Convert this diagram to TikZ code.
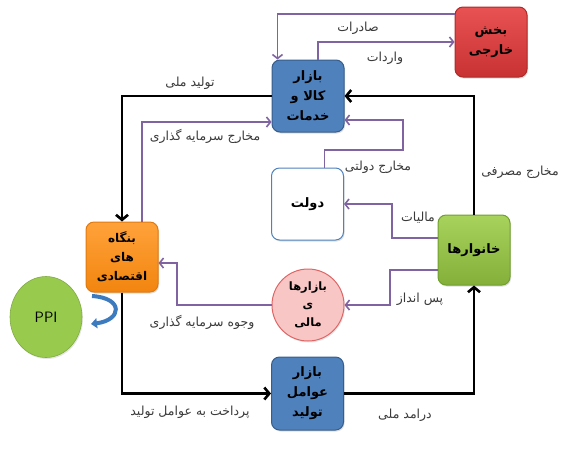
\documentclass[tikz,border=0pt]{standalone}
\usepackage{fontspec}
\usetikzlibrary{arrows.meta,shapes.geometric,shadows,calc}
\TeXXeTstate=1
\newfontfamily\arabicfont[Script=Arabic]{DejaVu Sans}
\newcommand{\fa}[1]{{\arabicfont\beginR #1\endR}}
\definecolor{goodsblue}{HTML}{4F81BD}
\definecolor{goodsborder}{HTML}{385D8A}
\definecolor{redtop}{HTML}{E85252}
\definecolor{redbot}{HTML}{C83232}
\definecolor{redborder}{HTML}{B02A2A}
\definecolor{greentop}{HTML}{A8D25C}
\definecolor{greenbot}{HTML}{84B03A}
\definecolor{greenborder}{HTML}{71A02E}
\definecolor{orangetop}{HTML}{FFA23A}
\definecolor{orangebot}{HTML}{F2850F}
\definecolor{orangeborder}{HTML}{E07A10}
\definecolor{pinkfill}{HTML}{F9C6C6}
\definecolor{pinkborder}{HTML}{E06666}
\definecolor{ppigreen}{HTML}{98CA4E}
\definecolor{purp}{HTML}{8064A2}
\definecolor{labgray}{HTML}{3A3A3A}
\definecolor{curvblue}{HTML}{3D7BBF}
\tikzset{
  box/.style={draw, line width=1pt, rounded corners=8pt, minimum width=72pt,
    minimum height=72pt, inner sep=0pt, align=center,
    font=\arabicfont\bfseries\fontsize{13}{20}\selectfont,
    drop shadow={opacity=0.25, shadow xshift=1pt, shadow yshift=-1.5pt}},
  lab/.style={font=\arabicfont\fontsize{12.5}{14}\selectfont, text=labgray, inner sep=1pt},
  blk/.style={draw=black, line width=2.6pt, -{Straight Barb[length=5pt,width=12pt]}},
  pur/.style={draw=purp, line width=1.6pt, -{Straight Barb[length=4pt,width=10pt]}},
  curv/.style={draw=curvblue, line width=4pt, -{Triangle[length=6pt,width=10pt]}}
}
\begin{document}
\begin{tikzpicture}[x=1pt,y=-1pt]
\useasboundingbox (0,0) rectangle (561,448);
% nodes
\node[box, top color=redtop, bottom color=redbot, draw=redborder, minimum height=70pt] (foreign) at (491,42) {\fa{بخش}\\\fa{خارجی}};
\node[box, fill=goodsblue, draw=goodsborder] (goods) at (308,96) {\fa{بازار}\\\fa{کالا و}\\\fa{خدمات}};
\node[box, fill=white, draw=goodsblue, drop shadow={opacity=0}] (gov) at (307.5,204) {\fa{دولت}};
\node[box, top color=greentop, bottom color=greenbot, draw=greenborder, minimum height=70pt] (hh) at (474,250) {\fa{خانوارها}};
\node[box, top color=orangetop, bottom color=orangebot, draw=orangeborder, minimum height=70pt,
  font=\arabicfont\bfseries\fontsize{12}{19}\selectfont] (firms) at (122,257) {\fa{بنگاه}\\\fa{های}\\\fa{اقتصادی}};
\node[circle, draw=pinkborder, fill=pinkfill, line width=1pt, minimum size=72pt, inner sep=0pt, align=center,
  font=\arabicfont\bfseries\fontsize{11.5}{18}\selectfont,
  drop shadow={opacity=0.2, shadow xshift=1pt, shadow yshift=-1.5pt}] (fin) at (308,305) {\fa{بازارها}\\\fa{ی}\\\fa{مالی}};
\node[ellipse, fill=ppigreen, draw=ppigreen!85!black, line width=0.6pt, minimum width=72pt, minimum height=81pt,
  font=\sffamily\fontsize{15}{17}\selectfont,
  drop shadow={opacity=0.2, shadow xshift=1pt, shadow yshift=-1.5pt}] (ppi) at (46,317) {PPI};
\node[box, fill=goodsblue, draw=goodsborder, minimum height=73pt] (factor) at (307.5,393.5) {\fa{بازار}\\\fa{عوامل}\\\fa{تولید}};
% black flows
\draw[blk] (hh.north) |- (goods.east);
\draw[blk] (goods.west) -| (firms.north);
\draw[blk] (firms.south) |- (factor.west);
\draw[blk] (factor.east) -| (hh.south);
% purple flows
\draw[pur] ([yshift=28pt]foreign.west) -| ([xshift=6pt]goods.north west);
\draw[pur] ([xshift=10pt]goods.north) |- (foreign.west);
\draw[pur] ([xshift=17pt]gov.north) |- (403,150) |- ([yshift=-24pt]goods.east);
\draw[pur] ([yshift=12pt]hh.west) -| (392,204) -- (gov.east);
\draw[pur] ([yshift=-20pt]hh.west) -| (390,305) -- (fin.east);
\draw[pur] (fin.west) -| (177,263) -- ([yshift=-6pt]firms.east);
\draw[pur] ([xshift=20pt]firms.north) |- ([yshift=-26pt]goods.west);
% curved arrow
\coordinate (ca) at (92,296);
\coordinate (cb) at (91,324);
\draw[curv] (ca) .. controls (124,298) and (122,320) .. (cb);
% labels
\node[lab] (lsad) at (358,28) {\fa{صادرات}};
\node[lab] (lvar) at (385,58) {\fa{واردات}};
\node[lab] (ltm) at (190,83) {\fa{تولید ملی}};
\node[lab] (lmsg) at (205,136) {\fa{مخارج سرمایه گذاری}};
\node[lab] (lmd) at (378,167) {\fa{مخارج دولتی}};
\node[lab] (lmm) at (520,172) {\fa{مخارج مصرفی}};
\node[lab] (lmal) at (418,218) {\fa{مالیات}};
\node[lab] (lpas) at (420,299) {\fa{پس انداز}};
\node[lab] (lvsg) at (202,322) {\fa{وجوه سرمایه گذاری}};
\node[lab] (lpb) at (190,412) {\fa{پرداخت به عوامل تولید}};
\node[lab] (ldm) at (405,415) {\fa{درامد ملی}};
\end{tikzpicture}
\end{document}
